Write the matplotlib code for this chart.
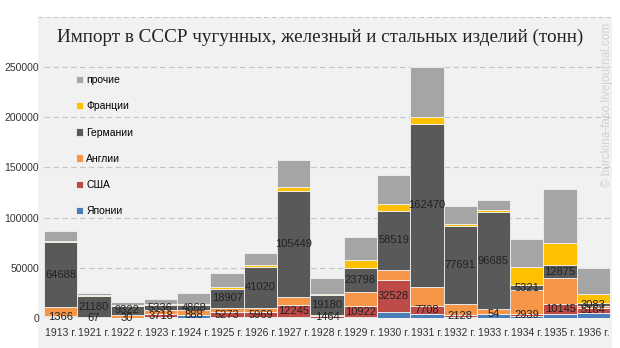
import numpy as np
import matplotlib.pyplot as plt
from matplotlib.patches import Rectangle

years = ['1913 г.', '1921 г.', '1922 г.', '1923 г.', '1924 г.', '1925 г.',
         '1926 г.', '1927 г.', '1928 г.', '1929 г.', '1930 г.', '1931 г.',
         '1932 г.', '1933 г.', '1934 г.', '1935 г.', '1936 г.']

# tonnes by country of origin
japan   = [500, 0, 0, 500, 2500, 800, 500, 800, 300, 1000, 5700, 4000, 1000, 4000, 1500, 3500, 5000]
usa     = [1366, 67, 30, 3718, 888, 5273, 5969, 12245, 1464, 10922, 32528, 7708, 2128, 54, 2939, 10145, 5164]
england = [9000, 500, 3000, 3500, 4500, 4000, 3500, 8000, 1500, 13700, 10000, 19500, 11000, 4500, 23000, 26000, 1500]
germany = [64688, 21180, 9322, 5336, 4868, 18907, 41020, 105449, 19180, 23798, 58519, 162470, 77691, 96685, 5321, 12875, 3083]
france  = [1500, 700, 300, 1000, 1500, 1500, 1500, 4000, 1200, 8000, 6500, 6500, 1500, 2000, 18000, 22000, 9500]
other   = [10000, 2500, 3500, 5000, 11000, 14500, 12500, 27000, 16500, 23500, 29000, 50000, 18500, 10500, 27500, 53500, 25500]

series = [('Японии', japan, '#4a7ebb'),
          ('США', usa, '#be4b48'),
          ('Англии', england, '#f79646'),
          ('Германии', germany, '#595959'),
          ('Франции', france, '#ffc000'),
          ('прочие', other, '#a5a5a5')]
labelled = ['США', 'Германии']

sans = 'Liberation Sans'
bg = '#f1f1f1'
fig = plt.figure(figsize=(6.2, 3.48), dpi=100, facecolor='white')
fig.patches.append(Rectangle((38 / 620, 0), 574 / 620, 1 - 17 / 348,
                             transform=fig.transFigure, facecolor=bg,
                             edgecolor='none', zorder=-10))
fig.lines.append(plt.Line2D([38 / 620, 612 / 620], [1 - 17 / 348] * 2,
                            transform=fig.transFigure, color='#cccccc',
                            lw=0.8, ls=(0, (4, 3))))

ax = fig.add_axes([44 / 620, 1 - 318 / 348, 566 / 620, 256 / 348])
ax.set_facecolor(bg)

x = np.arange(len(years))
bottom = np.zeros(len(years))
handles = []
for name, vals, col in series:
    vals = np.array(vals, dtype=float)
    b = ax.bar(x, vals, width=1.0, bottom=bottom, color=col,
               edgecolor=bg, linewidth=0.6, label=name, zorder=3)
    handles.append(b)
    if name in labelled:
        for xi, v, b0 in zip(x, vals, bottom):
            ax.text(xi, b0 + v / 2, f'{int(v)}', ha='center', va='center',
                    fontsize=8, family=sans, color='#222222', zorder=4)
    bottom += vals

ax.set_xlim(-0.5, len(years) - 0.5)
ax.set_ylim(0, 255000)
ax.set_yticks(np.arange(0, 250001, 50000))
ax.set_yticklabels([str(v) for v in range(0, 250001, 50000)], family=sans)
ax.set_xticks(x)
ax.set_xticklabels(years, family=sans)
ax.tick_params(axis='both', length=0, labelsize=7.5, colors='#333333')
ax.tick_params(axis='x', pad=7)
ax.grid(axis='y', color='#c4c4c4', ls=(0, (5, 3)), lw=0.8, zorder=0)
for s in ax.spines.values():
    s.set_visible(False)

leg = ax.legend(handles[::-1], [s[0] for s in series][::-1],
                loc='upper left', bbox_to_anchor=(0.04, 0.985), frameon=False,
                prop={'family': sans, 'size': 7.5}, labelspacing=1.55,
                handlelength=0.7, handleheight=0.7, handletextpad=0.3)

fig.text(320 / 620, 1 - 37 / 348,
         'Импорт в СССР чугунных, железный и стальных изделий (тонн)',
         ha='center', va='center', fontsize=13.8, family='Liberation Serif',
         color='#222222')
fig.text(607 / 620, 1 - 105 / 348, '© burckina-faso.livejournal.com',
         rotation=90, ha='center', va='center', fontsize=8.5, family=sans,
         color='#d2d2d2')

fig.savefig('out.png', dpi=100, facecolor=fig.get_facecolor())
